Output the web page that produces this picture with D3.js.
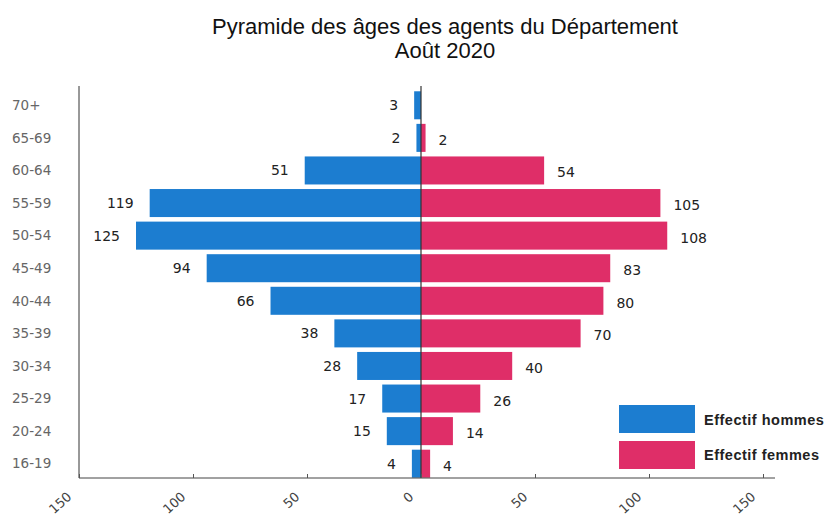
<!DOCTYPE html>
<html><head><meta charset="utf-8">
<script src="https://cdn.jsdelivr.net/npm/d3@7"></script>
<style>body{margin:0;background:#fff}svg{display:block}</style>
</head><body>
<svg id="c" width="828" height="516"></svg>
<script>
const ageGroups = ["70+","65-69","60-64","55-59","50-54","45-49","40-44","35-39","30-34","25-29","20-24","16-19"];
const hommes = [3,2,51,119,125,94,66,38,28,17,15,4];
const femmes = [null,2,54,105,108,83,80,70,40,26,14,4];
const tickValues = [-150,-100,-50,0,50,100,150];
const seriesNames = ["Effectif hommes","Effectif femmes"];
const colors = ["#1c7dd0","#df2e68"];

const svg = d3.select("#c");
const x = d3.scaleLinear().domain([-150,150]).range([79,763]);
const y = d3.scaleBand().domain(ageGroups).range([89,480]).paddingInner(0.14).paddingOuter(0.07);

const tf = "Liberation Sans, Arial, sans-serif";
svg.append("text").attr("x",445).attr("y",34).attr("text-anchor","middle")
  .attr("font-family",tf).attr("font-size",22).attr("fill","#111")
  .text("Pyramide des âges des agents du Département");
svg.append("text").attr("x",445).attr("y",58).attr("text-anchor","middle")
  .attr("font-family",tf).attr("font-size",22).attr("fill","#111")
  .text("Août 2020");

// bars
const g = svg.append("g");
g.selectAll("rect.h").data(ageGroups).join("rect").attr("class","h")
  .attr("x",(d,i)=>x(-hommes[i])).attr("width",(d,i)=>x(0)-x(-hommes[i]))
  .attr("y",d=>y(d)).attr("height",y.bandwidth()).attr("fill",colors[0]);
g.selectAll("rect.f").data(ageGroups.filter((d,i)=>femmes[i]!=null)).join("rect").attr("class","f")
  .attr("x",x(0)).attr("width",d=>x(femmes[ageGroups.indexOf(d)])-x(0))
  .attr("y",d=>y(d)).attr("height",y.bandwidth()).attr("fill",colors[1]);

// value labels
const lf = "DejaVu Sans, Verdana, sans-serif";
g.selectAll("text.h").data(ageGroups).join("text").attr("class","h")
  .attr("x",(d,i)=>x(-hommes[i])-16).attr("y",d=>y(d)+y.bandwidth()/2+5)
  .attr("text-anchor","end").attr("font-family",lf).attr("font-size",14).attr("fill","#222")
  .text((d,i)=>hommes[i]);
g.selectAll("text.f").data(ageGroups.filter((d,i)=>femmes[i]!=null)).join("text").attr("class","f")
  .attr("x",d=>x(femmes[ageGroups.indexOf(d)])+13).attr("y",d=>y(d)+y.bandwidth()/2+7)
  .attr("text-anchor","start").attr("font-family",lf).attr("font-size",14).attr("fill","#222")
  .text(d=>femmes[ageGroups.indexOf(d)]);

// zero line
svg.append("line").attr("x1",x(0)).attr("x2",x(0)).attr("y1",86).attr("y2",478)
  .attr("stroke","#333").attr("stroke-width",1.2);

// y axis
const ya = svg.append("g").attr("transform",`translate(${x(-150)},0)`)
  .call(d3.axisLeft(y).tickSize(0));
ya.select(".domain").attr("stroke","#333").attr("d","M0,86V478");
ya.selectAll("text").attr("font-family",lf).attr("font-size",13.5).attr("fill","#666")
  .attr("text-anchor","start").attr("x",-67).attr("dy","0.35em");

// x axis
const xa = svg.append("g").attr("transform","translate(0,478)")
  .call(d3.axisBottom(x).tickValues(tickValues).tickFormat(d=>Math.abs(d)).tickSize(4).tickSizeOuter(0));
xa.select(".domain").attr("stroke","#444").attr("d",`M${x(-150)},0H775`);
xa.selectAll(".tick line").attr("stroke","#555").attr("y1",-4).attr("y2",0);
xa.selectAll("text").attr("font-family",lf).attr("font-size",13).attr("fill","#444")
  .attr("text-anchor","end").attr("dy",0).attr("y",0)
  .attr("transform","translate(-7,20) rotate(-42)");

// legend
const lg = svg.append("g");
seriesNames.forEach((s,i)=>{
  lg.append("rect").attr("x",619).attr("y",405+i*36).attr("width",76).attr("height",28).attr("fill",colors[i]);
  lg.append("text").attr("x",704).attr("y",425+i*35).attr("font-family",tf)
    .attr("font-size",14.5).attr("font-weight","bold").attr("letter-spacing",0.5).attr("fill","#222").text(s);
});
</script>
</body></html>
